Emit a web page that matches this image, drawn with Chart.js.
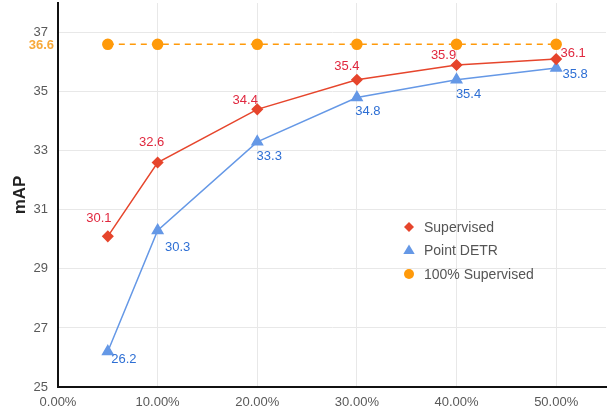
<!DOCTYPE html>
<html>
<head>
<meta charset="utf-8">
<script src="https://cdn.jsdelivr.net/npm/chart.js@4.4.1/dist/chart.umd.min.js"></script>
<style>
html,body{margin:0;padding:0;background:#fff;}
#wrap{width:607px;height:412px;position:relative;}
</style>
</head>
<body>
<div id="wrap"><canvas id="c"></canvas></div>
<script>
// ---- data ----
const fractions = [0.05, 0.10, 0.20, 0.30, 0.40, 0.50];
const supervised = [30.1, 32.6, 34.4, 35.4, 35.9, 36.1];
const pointDETR = [26.2, 30.3, 33.3, 34.8, 35.4, 35.8];
const fullSupervised = [36.6, 36.6, 36.6, 36.6, 36.6, 36.6];
const xTicks = [0, 0.1, 0.2, 0.3, 0.4, 0.5];
const yTicks = [25, 27, 29, 31, 33, 35, 37];
const seriesNames = ['Supervised', 'Point DETR', '100% Supervised'];

const FONT = "'Liberation Sans', Arial, sans-serif";
const RED = '#e6452c', RED_TXT = '#e0283f';
const BLUE = '#6598e6', BLUE_TXT = '#2e6fd4';
const ORANGE = '#ff9a0a', ORANGE_TXT = '#f7a93a';

// no extra layout overflow for point markers
Chart.LineController.prototype.getMaxOverflow = function(){ return 0; };

function pts(ys){ return fractions.map((x,i)=>({x:x,y:ys[i]})); }

// label offsets (pixels from point) for value labels
const labelStyle = {
  0: {color: RED_TXT, off: [[-9,-18],[-6,-20],[-12,-9],[-10,-13],[-13,-10],[17,-6]]},
  1: {color: BLUE_TXT, off: [[16,8],[20,17],[12,15],[11,14],[12,15],[19,6]]}
};

const valueLabels = {
  id: 'valueLabels',
  afterDatasetsDraw(chart){
    const ctx = chart.ctx;
    ctx.save();
    ctx.font = '13px ' + FONT;
    ctx.textAlign = 'center';
    ctx.textBaseline = 'middle';
    Object.keys(labelStyle).forEach(k=>{
      const di = +k;
      const meta = chart.getDatasetMeta(di);
      const ds = chart.data.datasets[di];
      ctx.fillStyle = labelStyle[k].color;
      meta.data.forEach((el,i)=>{
        const o = labelStyle[k].off[i];
        ctx.fillText(ds.data[i].y.toFixed(1), el.x + o[0], el.y + o[1]);
      });
    });
    // 36.6 axis label
    const ys = chart.scales.y;
    ctx.font = 'bold 13px ' + FONT;
    ctx.textAlign = 'right';
    ctx.fillStyle = ORANGE_TXT;
    ctx.fillText(fullSupervised[0].toFixed(1), chart.chartArea.left - 4, ys.getPixelForValue(fullSupervised[0]) + 1);
    ctx.restore();
  }
};

const customLegend = {
  id: 'customLegend',
  afterDraw(chart){
    const ctx = chart.ctx;
    const x0 = 409, y0 = 227, dy = 23.5;
    ctx.save();
    chart.data.datasets.forEach((ds,i)=>{
      const y = y0 + i*dy;
      ctx.fillStyle = ds.pointBackgroundColor;
      ctx.beginPath();
      if (ds.pointStyle === 'rectRot') {
        const r = 5;
        ctx.moveTo(x0, y-r); ctx.lineTo(x0+r, y); ctx.lineTo(x0, y+r); ctx.lineTo(x0-r, y);
      } else if (ds.pointStyle === 'triangle') {
        const r = 6;
        ctx.moveTo(x0, y-r); ctx.lineTo(x0+r*0.95, y+r*0.6); ctx.lineTo(x0-r*0.95, y+r*0.6);
      } else {
        ctx.arc(x0, y, 5, 0, Math.PI*2);
      }
      ctx.closePath(); ctx.fill();
      ctx.fillStyle = '#555';
      ctx.font = '14px ' + FONT;
      ctx.textAlign = 'left';
      ctx.textBaseline = 'middle';
      ctx.fillText(seriesNames[i], x0 + 15, y + 1);
    });
    ctx.restore();
  }
};

new Chart(document.getElementById('c'), {
  type: 'line',
  data: {
    datasets: [
      {label: seriesNames[0], data: pts(supervised), borderColor: RED, backgroundColor: RED,
       pointBackgroundColor: RED, pointBorderColor: RED, pointStyle: 'rectRot', pointRadius: 5,
       borderWidth: 1.5, tension: 0},
      {label: seriesNames[1], data: pts(pointDETR), borderColor: BLUE, backgroundColor: BLUE,
       pointBackgroundColor: BLUE, pointBorderColor: BLUE, pointStyle: 'triangle', pointRadius: 6,
       borderWidth: 1.5, tension: 0},
      {label: seriesNames[2], data: pts(fullSupervised), borderColor: ORANGE, backgroundColor: ORANGE,
       pointBackgroundColor: ORANGE, pointBorderColor: ORANGE, pointStyle: 'circle', pointRadius: 5,
       borderWidth: 1.5, borderDash: [6,5], tension: 0}
    ]
  },
  options: {
    responsive: true,
    maintainAspectRatio: false,
    animation: false,
    layout: {padding: {top: 3, right: 1, left: 0, bottom: 0}},
    plugins: {legend: {display: false}, tooltip: {enabled: false}},
    scales: {
      x: {
        type: 'linear', min: 0, max: 0.55,
        afterBuildTicks(s){ s.ticks = xTicks.map(v=>({value:v})); },
        afterFit(s){ s.height = 25; s.paddingLeft = 0; s.paddingRight = 0; },
        grid: {color: '#e8e8e8', drawTicks: false},
        border: {color: '#111', width: 2},
        ticks: {padding: 8, color: '#595959', font: {size: 13, family: FONT},
                callback: v => (v*100).toFixed(2) + '%'}
      },
      y: {
        type: 'linear', min: 25, max: 38,
        afterBuildTicks(s){ s.ticks = yTicks.map(v=>({value:v})); },
        afterFit(s){ s.width = 58; s.paddingTop = 0; s.paddingBottom = 0; },
        grid: {color: '#e8e8e8', drawTicks: false},
        border: {color: '#111', width: 2},
        ticks: {padding: 10, color: '#595959', font: {size: 13, family: FONT}},
        title: {display: true, text: 'mAP', color: '#222', font: {size: 17, weight: 'bold', family: FONT},
                padding: {top: 10, bottom: 0}}
      }
    }
  },
  plugins: [valueLabels, customLegend]
});
</script>
</body>
</html>
